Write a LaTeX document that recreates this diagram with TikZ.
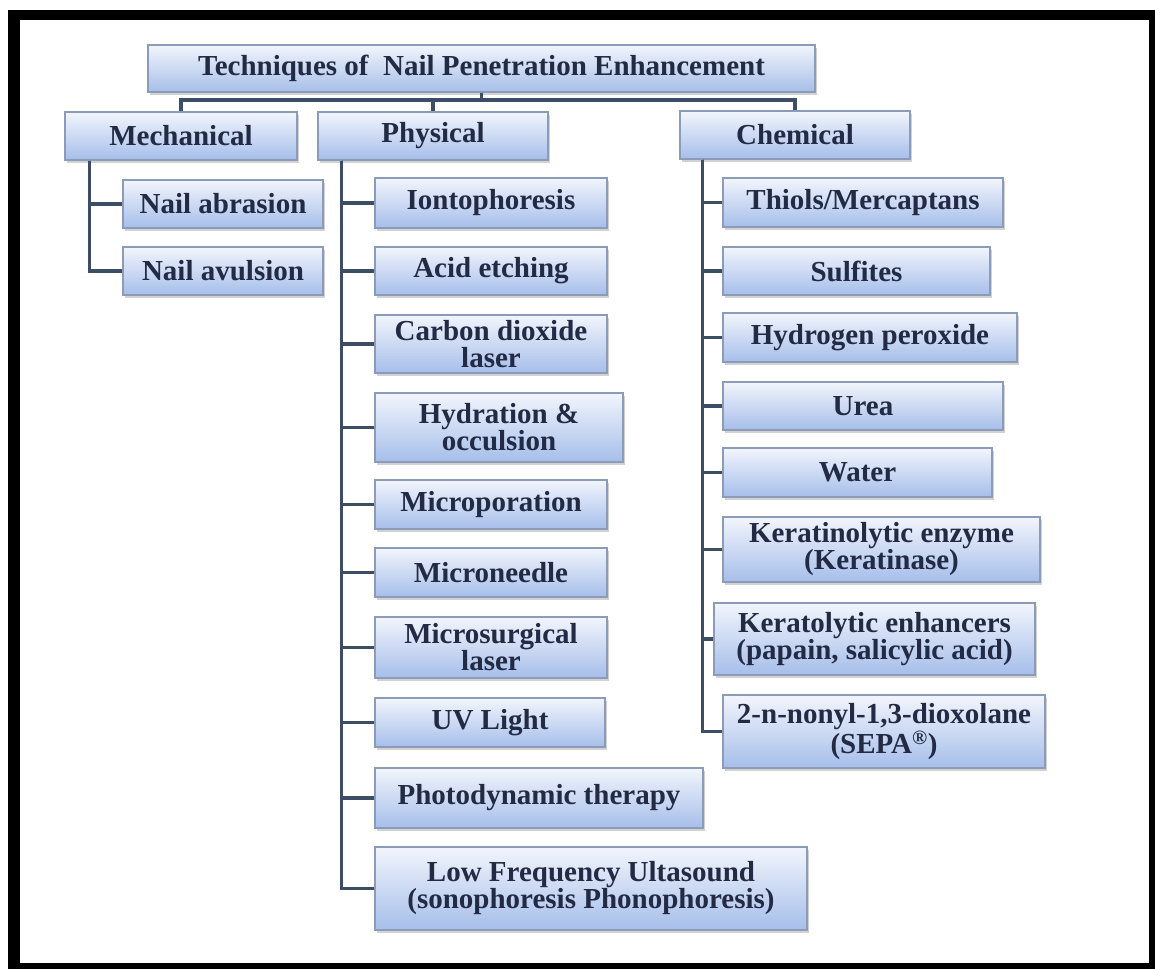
\documentclass[tikz,border=0pt]{standalone}
\usepackage{fontspec}
\setmainfont{Liberation Serif}
\usetikzlibrary{shadows,calc}
\definecolor{txt}{HTML}{222A44}
\definecolor{boxtop}{HTML}{F2F5FC}
\definecolor{boxbot}{HTML}{A6BEEA}
\definecolor{boxline}{HTML}{8C9BB8}
\definecolor{conncol}{HTML}{3E4D66}
\tikzset{
  bxs/.style={draw=boxline, line width=1.2pt, top color=boxtop, bottom color=boxbot,
    drop shadow={shadow xshift=2pt, shadow yshift=-2.5pt, fill=black!35},
    inner sep=0pt, align=center, text=txt, font=\fontsize{29}{27}\selectfont\bfseries},
  conn/.style={draw=conncol, line width=3.5pt}
}
\newcommand{\mybox}[6]{%
  \node[bxs, minimum width={#3-#2}, minimum height={#5-#4}] (#1) at ({(#2+#3)/2},{(#4+#5)/2}) {#6};}
\begin{document}
\begin{tikzpicture}[x=1pt,y=-1pt]
\useasboundingbox (0,0) rectangle (1155,969);
\fill[white] (0,0) rectangle (1155,969);
\fill[black] (8,10) rectangle (1155,969);
\fill[white] (20,20) rectangle (1149,963);

\mybox{title}{148}{815}{45}{92}{Techniques of \ Nail Penetration Enhancement}
\mybox{mech}{65}{297}{112}{160}{Mechanical}
\mybox{phys}{318}{548}{112}{160}{Physical}
\mybox{chem}{680}{910}{111}{159}{Chemical}

\mybox{abr}{123}{323}{180}{228}{Nail abrasion}
\mybox{avu}{123}{323}{247}{295}{Nail avulsion}

\mybox{ion}{375}{607}{178}{228}{Iontophoresis}
\mybox{acid}{375}{607}{247}{295}{Acid etching}
\mybox{co2}{375}{607}{315}{373}{Carbon dioxide\\laser}
\mybox{hyd}{375}{623}{393}{462}{Hydration \&\\occulsion}
\mybox{mpor}{375}{607}{480}{529}{Microporation}
\mybox{mneed}{375}{607}{548}{597}{Microneedle}
\mybox{msurg}{375}{607}{617}{678}{Microsurgical\\laser}
\mybox{uv}{375}{605}{698}{747}{UV Light}
\mybox{pdt}{375}{703}{768}{828}{Photodynamic therapy}
\mybox{lfu}{375}{807}{847}{930}{\fontsize{29}{38}\selectfont Low Frequency Ultasound\\(sonophoresis Phonophoresis)}

\mybox{thiol}{723}{1003}{178}{227}{Thiols/Mercaptans}
\mybox{sulf}{723}{990}{247}{295}{Sulfites}
\mybox{hper}{723}{1017}{313}{362}{Hydrogen peroxide}
\mybox{urea}{723}{1003}{382}{430}{Urea}
\mybox{water}{723}{992}{448}{497}{Water}
\mybox{kenz}{723}{1040}{517}{582}{Keratinolytic enzyme\\(Keratinase)}
\mybox{kenh}{714}{1035}{603}{675}{Keratolytic enhancers\\(papain, salicylic acid)}
\mybox{sepa}{723}{1045}{695}{768}{2-n-nonyl-1,3-dioxolane\\(SEPA\textsuperscript{®})}

\coordinate (hb) at (481.5,100);
\draw[conn] (title.south) -- (hb);
\draw[conn] (mech.north) |- (hb) -| (chem.north);
\draw[conn] (phys.north) -- (phys.north |- hb);

\coordinate (mt) at ($(mech.south west)+(25,0)$);
\coordinate (pt) at ($(phys.south west)+(24,0)$);
\coordinate (ct) at ($(chem.south west)+(23,0)$);
\foreach \c in {abr,avu} \draw[conn] (mt) |- (\c.west);
\foreach \c in {ion,acid,co2,hyd,mpor,mneed,msurg,uv,pdt,lfu} \draw[conn] (pt) |- (\c.west);
\foreach \c in {thiol,sulf,hper,urea,water,kenz,kenh,sepa} \draw[conn] (ct) |- (\c.west);
\end{tikzpicture}
\end{document}
